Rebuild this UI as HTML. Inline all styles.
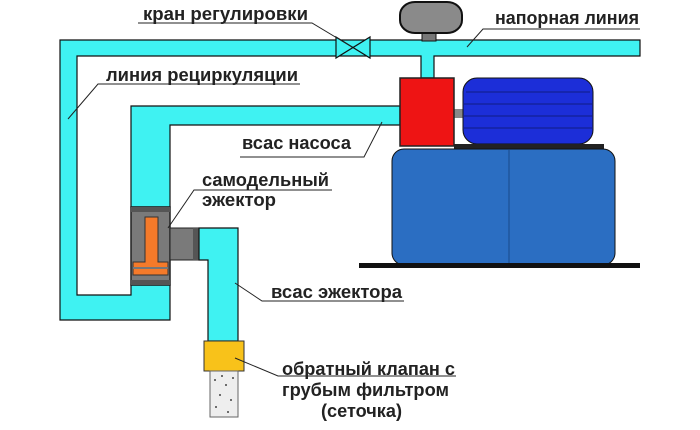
<!DOCTYPE html>
<html><head><meta charset="utf-8"><style>
html,body{margin:0;padding:0;background:#fff;}
svg{display:block;}
text{font-family:"Liberation Sans","DejaVu Sans",sans-serif;font-size:18px;font-weight:bold;fill:#222;}
</style></head><body>
<svg width="700" height="430" viewBox="0 0 700 430" xmlns="http://www.w3.org/2000/svg">
<rect width="700" height="430" fill="#fff"/>
<path d="M60,40 H640 V56 H434 V78 H421 V56 H77 V295 H131 V285 H170 V320 H60 Z" fill="#3ff2f2" stroke="#111" stroke-width="1.2"/>
<path d="M131,106 H400 V125 H170 V207 H131 Z" fill="#3ff2f2" stroke="#111" stroke-width="1.2"/>
<path d="M336,37 L370,58 V37 L336,58 Z" fill="#3ff2f2" stroke="#111" stroke-width="1.2"/>
<rect x="422" y="31" width="14" height="10" fill="#777" stroke="#111"/>
<rect x="400" y="2" width="62" height="31" rx="15" ry="13" fill="#8a8a8a" stroke="#111" stroke-width="2"/>
<rect x="131" y="207" width="39" height="78" fill="#7a7a7a" stroke="#222" stroke-width="1.5"/>
<rect x="131" y="207" width="39" height="5" fill="#555"/>
<rect x="131" y="280" width="39" height="5" fill="#555"/>
<rect x="170" y="228" width="29" height="32" fill="#7a7a7a" stroke="#222" stroke-width="1"/>
<rect x="193" y="228" width="6" height="32" fill="#555"/>
<path d="M145,217 H158 V262 H168 V275 H133 V262 H145 Z" fill="#f57a2a" stroke="#333" stroke-width="1"/>
<line x1="133" y1="268" x2="168" y2="268" stroke="#777" stroke-width="2"/>
<path d="M199,228 H238 V341 H208 V260 H199 Z" fill="#3ff2f2" stroke="#111" stroke-width="1.2"/>
<rect x="204" y="341" width="40" height="30" fill="#f8c21a" stroke="#333"/>
<rect x="210" y="371" width="28" height="46" fill="#eee" stroke="#666"/>
<g fill="#444"><circle cx="215" cy="380" r="1"/><circle cx="226" cy="385" r="1"/><circle cx="220" cy="395" r="1"/><circle cx="231" cy="400" r="1"/><circle cx="216" cy="407" r="1"/><circle cx="228" cy="412" r="1"/><circle cx="233" cy="378" r="1"/><circle cx="222" cy="376" r="1"/></g>
<rect x="454" y="109" width="9" height="9" fill="#888"/>
<rect x="400" y="78" width="54" height="68" fill="#ee1414" stroke="#222" stroke-width="1.5"/>
<rect x="463" y="78" width="130" height="66" rx="14" fill="#1c2ed8" stroke="#111"/>
<g stroke="#1422a0" stroke-width="1.5"><line x1="466" y1="92" x2="590" y2="92"/><line x1="464" y1="104" x2="592" y2="104"/><line x1="464" y1="116" x2="592" y2="116"/><line x1="464" y1="128" x2="592" y2="128"/></g>
<rect x="454" y="144" width="150" height="6" fill="#222"/>
<rect x="392" y="149" width="223" height="116" rx="12" fill="#2b6ec2" stroke="#111"/>
<line x1="509" y1="150" x2="509" y2="265" stroke="#1a4a8a"/>
<rect x="359" y="263" width="281" height="5" fill="#111"/>
<g stroke="#222" stroke-width="1" fill="none">
<polyline points="138,23 312,23 352,47"/>
<polyline points="640,29 483,29 467,47"/>
<polyline points="300,84 98,84 68,119"/>
<polyline points="240,157 364,157 382,122"/>
<polyline points="332,190 194,190 168,228"/>
<polyline points="404,301 262,301 235,283"/>
<polyline points="456,376 278,376 235,358"/>
</g>
<text x="143" y="20" textLength="165" lengthAdjust="spacingAndGlyphs">кран регулировки</text>
<text x="495" y="24" textLength="144" lengthAdjust="spacingAndGlyphs">напорная линия</text>
<text x="106" y="81" textLength="192" lengthAdjust="spacingAndGlyphs">линия рециркуляции</text>
<text x="242" y="149" textLength="109" lengthAdjust="spacingAndGlyphs">всас насоса</text>
<text x="202" y="186" textLength="127" lengthAdjust="spacingAndGlyphs">самодельный</text>
<text x="202" y="206" textLength="74" lengthAdjust="spacingAndGlyphs">эжектор</text>
<text x="271" y="298" textLength="131" lengthAdjust="spacingAndGlyphs">всас эжектора</text>
<text x="282" y="375" textLength="173" lengthAdjust="spacingAndGlyphs">обратный клапан с</text>
<text x="282" y="396" textLength="167" lengthAdjust="spacingAndGlyphs">грубым фильтром</text>
<text x="321" y="417" textLength="81" lengthAdjust="spacingAndGlyphs">(сеточка)</text>
</svg>
</body></html>
